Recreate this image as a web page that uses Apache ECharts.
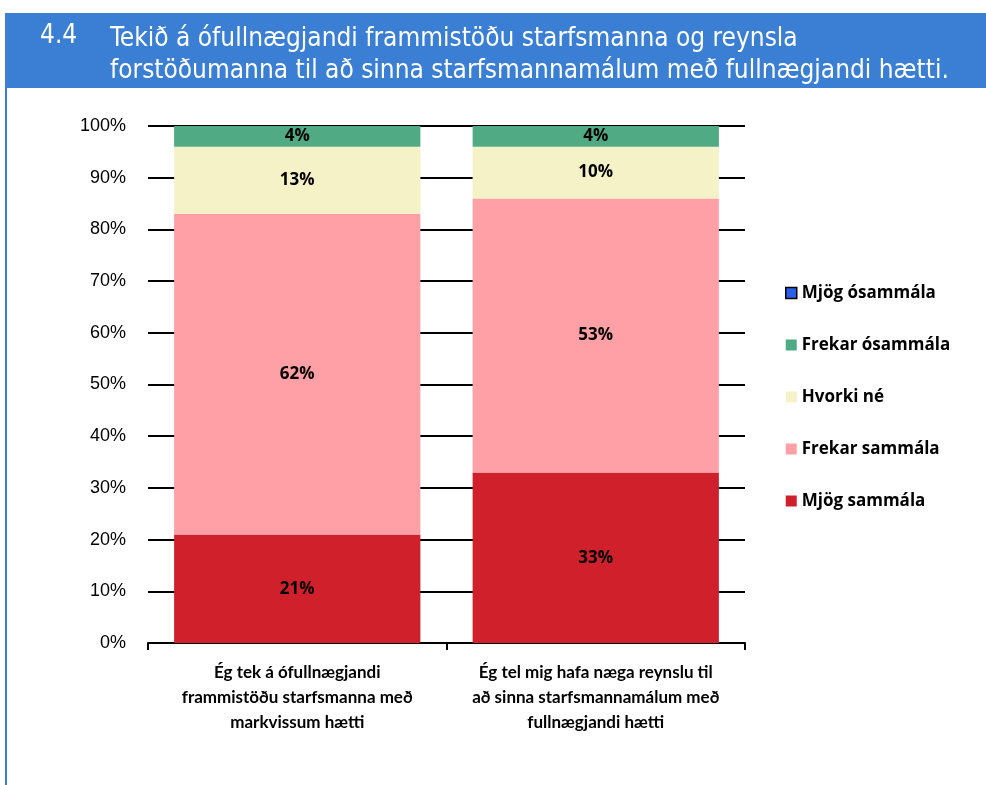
<!DOCTYPE html>
<html><head><meta charset="utf-8">
<script src="https://cdn.jsdelivr.net/npm/echarts@6/dist/echarts.min.js"></script>
<style>html,body{margin:0;padding:0;background:#fff}#c{width:986px;height:785px}</style>
</head><body><div id="c"></div>
<script>
const categories = [
  "Ég tek á ófullnægjandi\nframmistöðu starfsmanna með\nmarkvissum hætti",
  "Ég tel mig hafa næga reynslu til\nað sinna starfsmannamálum með\nfullnægjandi hætti"
];
const seriesNames = ["Mjög sammála", "Frekar sammála", "Hvorki né", "Frekar ósammála", "Mjög ósammála"];
const mjogSammala = [21, 33];
const frekarSammala = [62, 53];
const hvorkiNe = [13, 10];
const frekarOsammala = [4, 4];
const mjogOsammala = [0, 0];
const yTicks = [0, 10, 20, 30, 40, 50, 60, 70, 80, 90, 100];
const titleNum = "4.4";
const titleLines = ["Tekið á ófullnægjandi frammistöðu starfsmanna og reynsla",
  "forstöðumanna til að sinna starfsmannamálum með fullnægjandi hætti."];

const colors = ["#d0202b", "#ffa0a6", "#f6f2c8", "#50ab84", "#2a5fe8"];
const values = [mjogSammala, frekarSammala, hvorkiNe, frekarOsammala, mjogOsammala];
const labelFont = "'Open Sans', 'Liberation Sans', sans-serif";
const axisFont = "'Lato', 'Liberation Sans', sans-serif";
const titleFont = "26px 'Liberation Sans Narrow', 'DejaVu Sans Condensed', sans-serif";

const chart = echarts.init(document.getElementById('c'), null, {renderer: 'canvas'});
const series = seriesNames.map((n, i) => ({
  name: n, type: 'bar', stack: 'total', data: values[i],
  barCategoryGap: '17.5%',
  itemStyle: {color: colors[i]},
  label: {
    show: i < 4, position: 'inside', color: '#000', fontWeight: 'bold',
    fontSize: 17, fontFamily: labelFont,
    formatter: p => p.value > 0 ? p.value + '%' : ''
  }
}));

chart.setOption({
  animation: false,
  graphic: [
    {type: 'rect', shape: {x: 5, y: 13, width: 981, height: 75}, style: {fill: '#3a7fd3'}},
    {type: 'rect', shape: {x: 5, y: 13, width: 2, height: 772}, style: {fill: '#3a7fd3'}},
    {type: 'text', left: 40, top: 23, style: {text: titleNum, fill: '#fff', font: titleFont}},
    {type: 'text', left: 110, top: 23, style: {text: titleLines.join('\n'), fill: '#fff', lineHeight: 32, font: titleFont}}
  ],
  grid: {left: 148, right: 241, top: 126, bottom: 142},
  legend: {
    orient: 'vertical', left: 780, top: 277, itemGap: 30, itemWidth: 11, itemHeight: 11,
    icon: 'rect', padding: [5, 5, 5, 5],
    textStyle: {fontSize: 17, fontWeight: 'bold', color: '#000', fontFamily: labelFont, lineHeight: 22},
    data: [
      {name: seriesNames[4], itemStyle: {borderColor: '#000', borderWidth: 1.5}},
      seriesNames[3], seriesNames[2], seriesNames[1], seriesNames[0]
    ]
  },
  xAxis: {
    type: 'category', data: categories,
    axisLine: {lineStyle: {color: '#000', width: 2}},
    axisTick: {show: true, length: 7, lineStyle: {color: '#000', width: 2}},
    axisLabel: {color: '#000', fontWeight: 'bold', fontSize: 17, lineHeight: 25, margin: 17, fontFamily: axisFont, interval: 0}
  },
  yAxis: {
    type: 'value', min: yTicks[0], max: yTicks[yTicks.length - 1], interval: 10,
    axisLine: {show: false}, axisTick: {show: false},
    splitLine: {lineStyle: {color: '#000', width: 2}},
    axisLabel: {formatter: '{value}%', color: '#000', fontSize: 18, margin: 22, fontFamily: "'Liberation Sans', sans-serif"}
  },
  series: series
});
</script></body></html>
